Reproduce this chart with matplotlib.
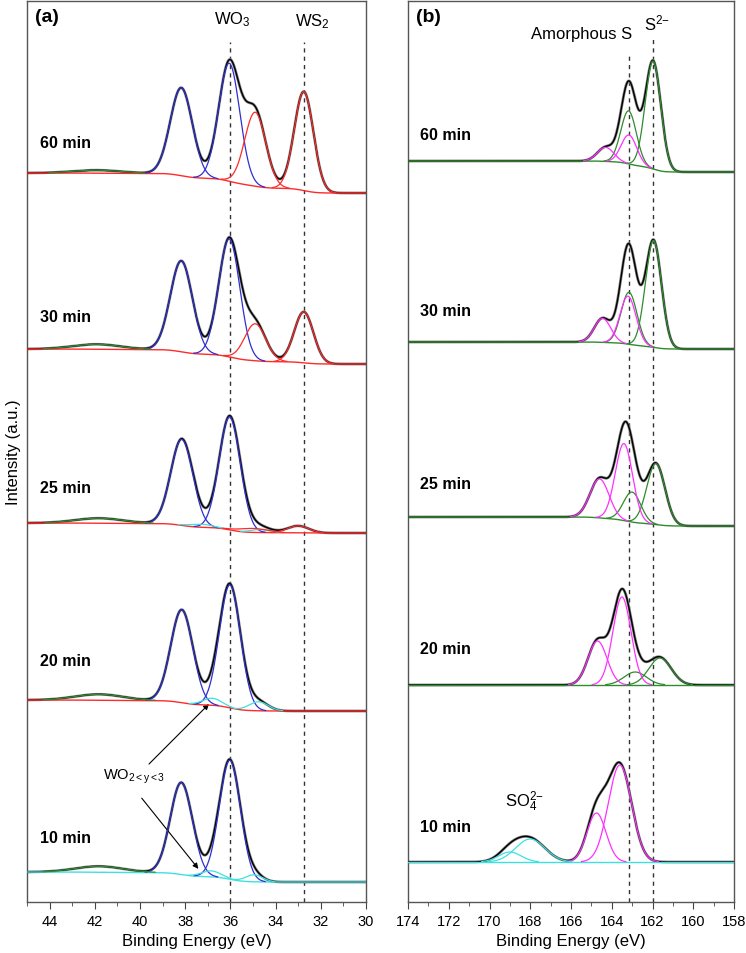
import numpy as np
import matplotlib.pyplot as plt
from matplotlib.ticker import MultipleLocator

plt.rcParams['font.family'] = ['Liberation Sans', 'DejaVu Sans']
plt.rcParams['mathtext.fontset'] = 'custom'
plt.rcParams['mathtext.rm'] = 'Liberation Sans'
plt.rcParams['mathtext.it'] = 'Liberation Sans:italic'
plt.rcParams['mathtext.bf'] = 'Liberation Sans:bold'

times = ['60 min', '30 min', '25 min', '20 min', '10 min']

# (a) W 4f - background level on high / low BE side of each spectrum (stacked)
w_bg_high = [729, 553, 379, 202, 30]
w_bg_low = [709, 538, 369, 191, 20]
w_bg_kind = ['r', 'r', 'r', 'r', 'c']
# fitted components: centre (eV), height, fwhm (eV), colour key
w_pos = [[38.17, 36.05, 34.9, 32.75, 41.9],
         [38.17, 36.05, 34.9, 32.75, 41.9],
         [38.15, 36.03, 37.3, 34.7, 35.0, 33.0, 41.8],
         [38.15, 36.02, 36.8, 34.75, 41.8],
         [38.17, 36.02, 36.85, 34.95, 41.8]]
w_height = [[88, 118, 74, 99, 3],
            [91, 118, 37, 51, 5],
            [86, 113, 3, 3, 4, 7, 5],
            [93, 123, 7, 9, 6],
            [92, 119, 6, 7, 6]]
w_fwhm = [[1.15, 1.1, 1.1, 1.0, 2.5],
          [1.15, 1.1, 1.1, 1.0, 2.5],
          [1.15, 1.1, 1.2, 1.0, 1.5, 1.1, 2.5],
          [1.15, 1.1, 1.0, 1.0, 2.5],
          [1.15, 1.1, 1.0, 0.9, 2.5]]
w_kind = [['b', 'b', 'r', 'r', 'g'],
          ['b', 'b', 'r', 'r', 'g'],
          ['b', 'b', 'c', 'c', 'r', 'r', 'g'],
          ['b', 'b', 'c', 'c', 'g'],
          ['b', 'b', 'c', 'c', 'g']]

# (b) S 2p
s_bg_high = [741, 560, 385, 217, 40]
s_bg_low = [730, 553, 376, 217, 40]
s_bg_kind = ['g', 'g', 'g', 'g', 'c']
s_pos = [[161.97, 163.17, 163.15, 164.3],
         [161.95, 163.15, 163.2, 164.45],
         [161.83, 163.0, 163.4, 164.6],
         [161.63, 162.85, 163.5, 164.7],
         [163.6, 164.75, 168.0, 169.0]]
s_height = [[108, 53, 29, 14],
            [107, 52, 48, 24],
            [61, 30, 77, 39],
            [27, 13, 88, 44],
            [97, 49, 23, 10]]
s_fwhm = [[0.9, 0.9, 0.9, 0.95],
          [0.92, 0.92, 0.92, 0.95],
          [1.05, 1.0, 1.0, 1.1],
          [1.3, 1.3, 1.05, 1.1],
          [1.35, 1.1, 1.7, 1.3]]
s_kind = [['g', 'g', 'm', 'm'],
          ['g', 'g', 'm', 'm'],
          ['g', 'g', 'm', 'm'],
          ['g', 'g', 'm', 'm'],
          ['m', 'm', 'c', 'c']]

colors = {'b': '#2f2fd0', 'r': '#ff2a2a', 'g': '#2e8b2e', 'c': '#3fe0e0', 'm': '#ff30ff'}


def gauss(x, pos, h, fwhm):
    s = fwhm / 2.3548
    return h * np.exp(-0.5 * ((x - pos) / s) ** 2)


def shirley(total, high, low):
    # x runs high -> low binding energy, so sum from each point to the end
    cum = np.cumsum(total[::-1])[::-1]
    return low + (high - low) * cum / cum[0]


def draw_stack(ax, x, bg_high, bg_low, bg_kind, pos, hts, fwhm, kinds):
    for i in range(len(times)):
        comps = [gauss(x, p, h, w) for p, h, w in zip(pos[i], hts[i], fwhm[i])]
        total = np.sum(comps, axis=0)
        bg = shirley(total, bg_high[i], bg_low[i])
        ax.plot(x, bg + total, color='0.5', lw=2.0, zorder=2)
        ax.plot(x, bg + total, color='black', lw=1.0, zorder=3)
        ax.plot(x, bg, color=colors[bg_kind[i]], lw=1.0, zorder=4)
        for c, k in zip(comps, kinds[i]):
            ax.plot(x, np.where(c > 0.4, bg + c, np.nan), color=colors[k], lw=0.9, zorder=4)


fig = plt.figure(figsize=(7.46, 9.54), dpi=100)
ax1 = fig.add_axes([27 / 746, 51 / 954, 339 / 746, 901 / 954])
ax2 = fig.add_axes([408 / 746, 51 / 954, 326 / 746, 901 / 954])

xa = np.linspace(45, 30, 700)
xb = np.linspace(174, 158, 700)
draw_stack(ax1, xa, w_bg_high, w_bg_low, w_bg_kind, w_pos, w_height, w_fwhm, w_kind)
draw_stack(ax2, xb, s_bg_high, s_bg_low, s_bg_kind, s_pos, s_height, s_fwhm, s_kind)

ax1.set_xlim(45, 30)
ax2.set_xlim(174, 158)
for ax in (ax1, ax2):
    ax.set_ylim(0, 901)
    ax.set_yticks([])
    ax.xaxis.set_major_locator(MultipleLocator(2))
    ax.xaxis.set_minor_locator(MultipleLocator(1))
    ax.tick_params(axis='x', which='major', direction='out', length=5, labelsize=10.5, color='#444444')
    ax.tick_params(axis='x', which='minor', direction='out', length=3, color='#444444')
    ax.tick_params(top=False)
    for sp in ax.spines.values():
        sp.set_color('#555555')
        sp.set_linewidth(1.0)
    ax.set_xlabel('Binding Energy (eV)', fontsize=12, labelpad=4)

ax1.set_ylabel('Intensity (a.u.)', fontsize=12, labelpad=4)

# reference lines
ax1.vlines([36.0, 32.73], 0, 860, colors='#333333', linestyles=(0, (3, 3)), lw=1.0, zorder=1)
ax2.vlines([163.15], 0, 850, colors='#333333', linestyles=(0, (3, 3)), lw=1.0, zorder=1)
ax2.vlines([161.98], 0, 863, colors='#333333', linestyles=(0, (3, 3)), lw=1.0, zorder=1)

# labels
ax1.text(44.65, 886, '(a)', fontsize=14, fontweight='bold', va='center')
ax2.text(173.6, 886, '(b)', fontsize=14, fontweight='bold', va='center')
ax1.text(35.9, 883, r'WO$_3$', fontsize=12, ha='center', va='center')
ax1.text(32.35, 881, r'WS$_2$', fontsize=12, ha='center', va='center')
ax2.text(165.46, 868, 'Amorphous S', fontsize=12, ha='center', va='center')
ax2.text(161.78, 880, r'S$^{2\mathregular{-}}$', fontsize=12, ha='center', va='center')
ax2.text(168.3, 101, r'SO$_4^{2\mathregular{-}}$', fontsize=12, ha='center', va='center')

ya = [760, 586, 414, 241, 64]
yb = [768, 591, 418, 253, 75]
for t, y1, y2 in zip(times, ya, yb):
    ax1.text(44.42, y1, t, fontsize=11.5, fontweight='bold', va='center')
    ax2.text(173.41, y2, t, fontsize=11.5, fontweight='bold', va='center')

ax1.text(41.64, 126, r'WO$_{\mathregular{2<y<3}}$', fontsize=10.5, ha='left', va='center')
arrow = dict(arrowstyle='-|>', color='black', lw=0.8, mutation_scale=8)
ax1.annotate('', xy=(36.86, 200), xytext=(39.69, 136), arrowprops=arrow)
ax1.annotate('', xy=(37.34, 31), xytext=(40.0, 106), arrowprops=arrow)

fig.savefig('out.png', dpi=100)
